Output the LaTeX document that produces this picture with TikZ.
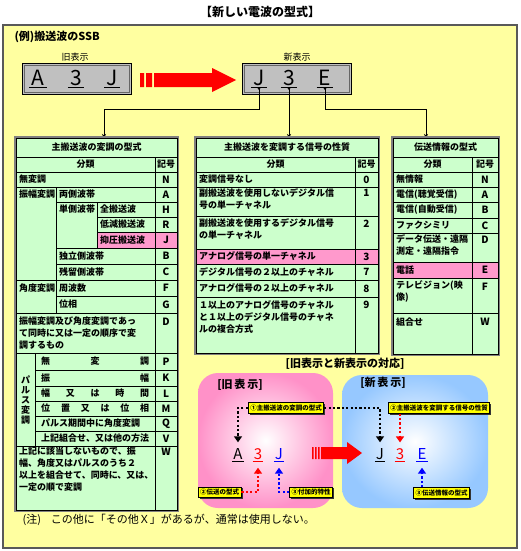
\documentclass[tikz,border=0pt]{standalone}
\usepackage{fontspec}
\setmainfont{Noto Sans CJK JP}
\usetikzlibrary{arrows.meta,shadows}
\definecolor{bgyellow}{RGB}{255,255,160}
\definecolor{cellgreen}{RGB}{204,255,204}
\definecolor{cellpink}{RGB}{255,153,204}
\definecolor{boxgray}{RGB}{192,192,192}
\definecolor{oldpink}{RGB}{255,145,200}
\definecolor{newblue}{RGB}{150,200,255}
\definecolor{tagyellow}{RGB}{255,255,0}
\tikzset{
  cell/.style={anchor=west, inner sep=0pt, font=\fontsize{9}{12}\selectfont\bfseries},
  cellml/.style={anchor=north west, align=left, inner sep=0pt, font=\fontsize{9}{12}\selectfont\bfseries},
  head/.style={inner sep=0pt, font=\fontsize{9}{12}\selectfont\bfseries},
  sym/.style={inner sep=0pt, font=\fontsize{10}{12}\selectfont\bfseries},
  grid/.style={draw=black, line width=0.8pt},
  frame/.style={draw=gray, line width=2pt},
  keybox/.style={draw=black, fill=boxgray, line width=0.8pt, minimum width=109pt, minimum height=31pt, inner sep=0pt},
  keychar/.style={anchor=base, font=\fontsize{21}{21}\selectfont, inner xsep=2pt, inner ysep=2pt, text depth=0pt},
  mapchar/.style={anchor=base, font=\fontsize{15}{15}\selectfont, inner xsep=1pt, inner ysep=1.5pt, text depth=0pt},
  feed/.style={draw=black, line width=0.8pt, {Circle[length=2.5pt]}-{Stealth[length=4pt,width=4pt]}},
  tag/.style={draw=black, fill=tagyellow, line width=0.8pt, inner xsep=2pt, inner ysep=2pt,
    font=\fontsize{6.5}{6.5}\selectfont\bfseries,
    drop shadow={shadow xshift=1.5pt, shadow yshift=-1.5pt, fill=black!80, opacity=1}},
  dotarrow/.style={line width=2.2pt, dash pattern=on 2.2pt off 2.2pt, -{Triangle[length=6pt,width=8pt]}},
}
\begin{document}
\begin{tikzpicture}[x=1pt,y=-1pt]
\useasboundingbox (0,0) rectangle (520,551);
\node[font=\fontsize{12}{12}\selectfont\bfseries] (title) at (260,12) {【新しい電波の型式】};
\fill[bgyellow] (3,25) rectangle (517,548);
\draw[draw=black!65, line width=1.5pt] (3,25) rectangle (517,548);
\node[anchor=west, font=\fontsize{11}{11}\selectfont\bfseries] (example) at (11,37) {(例)搬送波のSSB};

\node[font=\fontsize{9}{9}\selectfont] (oldlbl) at (75,57) {旧表示};
\node[font=\fontsize{9}{9}\selectfont] (newlbl) at (297,57) {新表示};
\node[keybox] (oldbox) at (76.5,78.5) {};
\node[keybox] (newbox) at (296.5,78.5) {};
\draw[black!60] ([shift={(2.5pt,2.5pt)}]oldbox.south west) rectangle ([shift={(-2.5pt,-2.5pt)}]oldbox.north east);
\draw[black!60] ([shift={(2.5pt,2.5pt)}]newbox.south west) rectangle ([shift={(-2.5pt,-2.5pt)}]newbox.north east);
\node[keychar] (oa) at (38,85) {A};
\node[keychar] (o3) at (76,85) {3};
\node[keychar] (oj) at (112,85) {J};
\node[keychar] (nj) at (259,85) {J};
\node[keychar] (n3) at (289,85) {3};
\node[keychar] (ne) at (325,85) {E};
\draw (oa.south west) -- (oa.south east) (o3.south west) -- (o3.south east) (oj.south west) -- (oj.south east);
\draw (nj.south west) -- (nj.south east) (n3.south west) -- (n3.south east) (ne.south west) -- (ne.south east);

\fill[red] (140,73) rectangle (144,87) (146,73) rectangle (152,87);
\fill[red] (154,73) -- (212,73) -- (212,68) -- (236,80) -- (212,92) -- (212,87) -- (154,87) -- cycle;

\coordinate (in1) at (104,138);
\coordinate (in2) at (n3.south |- 0,138);
\coordinate (in3) at (426,138);
\path[feed] (nj.south) -- ++(0,22) -| (in1);
\path[feed] (n3.south) -- (in2);
\path[feed] (ne.south) -- ++(0,22) -| (in3);

\fill[cellgreen] (16,138) rectangle (177,510);
\fill[cellpink] (97,232) rectangle (177,248);
\draw[frame] (15,137) rectangle (178,511);
\draw[grid] (16,138) rectangle (177,510)
  (16,157) -- (177,157) (16,172) -- (177,172) (16,187) -- (177,187)
  (56,202) -- (177,202) (97,217) -- (177,217) (97,232) -- (177,232)
  (56,248) -- (177,248) (56,264) -- (177,264) (16,280) -- (177,280)
  (56,296) -- (177,296) (16,313) -- (177,313) (16,353) -- (177,353)
  (35,370) -- (177,370) (35,386) -- (177,386) (35,401) -- (177,401)
  (35,416) -- (177,416) (35,431) -- (177,431) (16,446) -- (177,446)
  (155,157) -- (155,510) (56,187) -- (56,313) (97,202) -- (97,248) (35,353) -- (35,446);
\node[head] (modtitle) at (96.5,147.5) {主搬送波の変調の型式};
\node[head] (modcls) at (85.5,164.5) {分類};
\node[head] (modsym) at (166,164.5) {記号};
\node[cell] (mnone) at (19,179.5) {無変調};
\node[cell] (mam) at (19,194.5) {振幅変調};
\node[cell] (mdsb) at (59,194.5) {両側波帯};
\node[cell] (mssb) at (59,209.5) {単側波帯};
\node[cell] (mfull) at (100,209.5) {全搬送波};
\node[cell] (mred) at (100,224.5) {低減搬送波};
\node[cell] (msup) at (100,240) {抑圧搬送波};
\node[cell] (misb) at (59,256) {独立側波帯};
\node[cell] (mvsb) at (59,272) {残留側波帯};
\node[cell] (mang) at (19,288) {角度変調};
\node[cell] (mfm) at (59,288) {周波数};
\node[cell] (mpm) at (59,304.5) {位相};
\node[cellml] (mboth) at (19,317) {振幅変調及び角度変調であっ\\て同時に又は一定の順序で変\\調するもの};
\node[head, align=center, font=\fontsize{9}{10}\selectfont\bfseries] (mpulse) at (25.5,400) {パ\\ル\\ス\\変\\調};
\node[cell] (pnone) at (41,361.5) {\makebox[108pt][s]{無\hfill 変\hfill 調}};
\node[cell] (pamp) at (41,378) {\makebox[108pt][s]{振\hfill 幅}};
\node[cell] (pwid) at (41,393.5) {\makebox[108pt][s]{幅\hfill 又\hfill は\hfill 時\hfill 間}};
\node[cell] (ppos) at (41,408.5) {\makebox[108pt][s]{位\hfill 置\hfill 又\hfill は\hfill 位\hfill 相}};
\node[cell] (pang) at (41,423.5) {パルス期間中に角度変調};
\node[cell] (pmix) at (41,438.5) {上記組合せ、又は他の方法};
\node[cellml] (mother) at (19,446.5) {上記に該当しないもので、振\\幅、角度又はパルスのうち２\\以上を組合せて、同時に、又は、\\一定の順で変調};
\node[sym] (sN) at (166,179.5) {N};
\node[sym] (sA) at (166,194.5) {A};
\node[sym] (sH) at (166,209.5) {H};
\node[sym] (sR) at (166,224.5) {R};
\node[sym] (sJ) at (166,240) {J};
\node[sym] (sB) at (166,256) {B};
\node[sym] (sC) at (166,272) {C};
\node[sym] (sF) at (166,288) {F};
\node[sym] (sG) at (166,304.5) {G};
\node[sym] (sD) at (166,322) {D};
\node[sym] (sP) at (166,361.5) {P};
\node[sym] (sK) at (166,378) {K};
\node[sym] (sL) at (166,393.5) {L};
\node[sym] (sM) at (166,408.5) {M};
\node[sym] (sQ) at (166,423.5) {Q};
\node[sym] (sV) at (166,438.5) {V};
\node[sym] (sW) at (166,452) {W};

\fill[cellgreen] (196,138) rectangle (378,353);
\fill[cellpink] (196,249) rectangle (378,264);
\draw[frame] (195,137) rectangle (379,354);
\draw[grid] (196,138) rectangle (378,353)
  (196,157) -- (378,157) (196,172) -- (378,172) (196,187) -- (378,187)
  (196,216) -- (378,216) (196,249) -- (378,249) (196,264) -- (378,264)
  (196,280) -- (378,280) (196,297) -- (378,297) (355,157) -- (355,353);
\node[head] (sigtitle) at (287,147.5) {主搬送波を変調する信号の性質};
\node[head] (sigcls) at (275.5,164.5) {分類};
\node[head] (sigsym) at (366.5,164.5) {記号};
\node[cell] (signone) at (199,179.5) {変調信号なし};
\node[cellml] (sigdig1) at (199,188) {副搬送波を使用しないデジタル信\\号の単一チャネル};
\node[cellml] (sigdig2) at (199,218) {副搬送波を使用するデジタル信号\\の単一チャネル};
\node[cell] (sigana) at (199,256.5) {アナログ信号の単一チャネル};
\node[cell] (sigdigm) at (199,272) {デジタル信号の２以上のチャネル};
\node[cell] (siganam) at (199,288.5) {アナログ信号の２以上のチャネル};
\node[cellml] (sigmix) at (199,300) {１以上のアナログ信号のチャネル\\と１以上のデジタル信号のチャネ\\ルの複合方式};
\node[sym] (s0) at (366.5,179.5) {0};
\node[sym] (s1) at (366.5,193) {1};
\node[sym] (s2) at (366.5,223.5) {2};
\node[sym] (s3) at (366.5,256.5) {3};
\node[sym] (s7) at (366.5,272) {7};
\node[sym] (s8) at (366.5,288.5) {8};
\node[sym] (s9) at (366.5,305) {9};

\fill[cellgreen] (393,138) rectangle (498,354);
\fill[cellpink] (393,262) rectangle (498,278);
\draw[frame] (392,137) rectangle (499,355);
\draw[grid] (393,138) rectangle (498,354)
  (393,157) -- (498,157) (393,172) -- (498,172) (393,187) -- (498,187)
  (393,202) -- (498,202) (393,218) -- (498,218) (393,233) -- (498,233)
  (393,262) -- (498,262) (393,278) -- (498,278) (393,313) -- (498,313)
  (472,157) -- (472,354);
\node[head] (inftitle) at (445.5,147.5) {伝送情報の型式};
\node[head] (infcls) at (432.5,164.5) {分類};
\node[head] (infsym) at (485,164.5) {記号};
\node[cell] (infnone) at (396,179.5) {無情報};
\node[cell] (infaural) at (396,194.5) {電信(聴覚受信)};
\node[cell] (infauto) at (396,210) {電信(自動受信)};
\node[cell] (inffax) at (396,225.5) {ファクシミリ};
\node[cellml] (infdata) at (396,234) {データ伝送・遠隔\\測定・遠隔指令};
\node[cell] (inftel) at (396,270) {電話};
\node[cellml] (inftv) at (396,280) {テレビジョン(映\\像)};
\node[cell] (infmix) at (396,322) {組合せ};
\node[sym] (iN) at (485,179.5) {N};
\node[sym] (iA) at (485,194.5) {A};
\node[sym] (iB) at (485,210) {B};
\node[sym] (iC) at (485,225.5) {C};
\node[sym] (iD) at (485,240) {D};
\node[sym] (iE) at (485,270) {E};
\node[sym] (iF) at (485,287) {F};
\node[sym] (iW) at (485,322) {W};

\node[font=\fontsize{11}{11}\selectfont\bfseries] (maptitle) at (345,364) {[旧表示と新表示の対応]};
\shade[rounded corners=20pt, inner color=white, outer color=oldpink] (198,373) rectangle (333,508);
\shade[rounded corners=20pt, inner color=white, outer color=newblue] (342,375) rectangle (488,508);
\node[font=\fontsize{11}{11}\selectfont\bfseries] (oldhead) at (240,385) {[旧\,表\,示]};
\node[font=\fontsize{11}{11}\selectfont\bfseries] (newhead) at (383,383) {[新\,表\,示]};

\node[mapchar] (ma) at (238,459) {A};
\node[mapchar, red] (m3) at (258,459) {3};
\node[mapchar, blue] (mj) at (279,459) {J};
\node[mapchar] (mnj) at (380,459) {J};
\node[mapchar, red] (mn3) at (400,459) {3};
\node[mapchar, blue] (mne) at (422,459) {E};
\draw (ma.south west) -- (ma.south east) (mnj.south west) -- (mnj.south east);
\draw[red] (m3.south west) -- (m3.south east) (mn3.south west) -- (mn3.south east);
\draw[blue] (mj.south west) -- (mj.south east) (mne.south west) -- (mne.south east);

\fill[red] (312,447) rectangle (313.5,459) (315,447) rectangle (316.5,459) (318,447) rectangle (319.5,459);
\fill[red] (321,447) -- (347,447) -- (347,442) -- (362,453) -- (347,464) -- (347,459) -- (321,459) -- cycle;

\node[tag] (tagmod) at (286,408) {①主搬送波の変調の型式};
\node[tag] (tagsig) at (439,408) {②主搬送波を変調する信号の性質};
\node[tag] (tagtr) at (219.5,492) {②伝送の型式};
\node[tag] (tagadd) at (311,492) {③付加的特性};
\node[tag] (taginfo) at (441.5,493) {③伝送情報の型式};

\draw[dotarrow, shorten >=4pt] (tagmod.west) -| (ma.north);
\draw[dotarrow, shorten >=4pt] (tagmod.east) -| (mnj.north);
\draw[dotarrow, red, shorten >=4pt] (tagsig.south -| mn3.north) -- (mn3.north);
\draw[dotarrow, red, shorten >=7pt] (tagtr.east) -| (m3.south);
\draw[dotarrow, blue, shorten >=7pt] (tagadd.west) -| (mj.south);
\draw[dotarrow, blue, shorten >=7pt] (taginfo.north -| mne.south) -- (mne.south);

\node[anchor=west, font=\fontsize{11}{11}\selectfont] (note) at (19,520) {(注)\hspace{10pt}この他に「その他Ｘ」があるが、通常は使用しない。};
\end{tikzpicture}
\end{document}
